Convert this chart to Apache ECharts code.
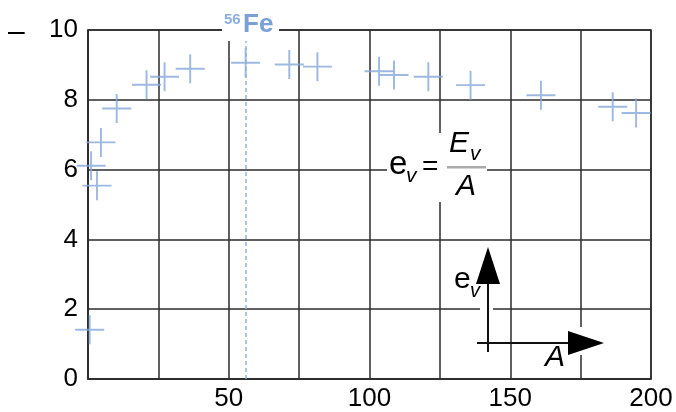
<!DOCTYPE html>
<html>
<head>
<meta charset="utf-8">
<title>e_v = E_v / A</title>
<style type="text/css">
  html, body { margin: 0; padding: 0; background: #fff; }
  #chart { width: 676px; height: 412px; }
</style>
<script src="https://cdn.jsdelivr.net/npm/echarts@6.0.0/dist/echarts.min.js"></script>
</head>
<body>
<div id="chart"></div>
<script type="text/javascript">
// mass number A and binding energy per nucleon e_v (MeV)
var massNumbers = [0.6, 1.1, 3.2, 4.6, 10.2, 20.8, 27.2, 36.3, 56, 71.5, 81.5, 103.4, 108.7, 120.9, 135.9, 160.9, 186.4, 194.7];
var energies = [1.41, 6.11, 5.54, 6.78, 7.75, 8.43, 8.66, 8.89, 9.06, 9.01, 8.95, 8.82, 8.71, 8.66, 8.42, 8.13, 7.80, 7.62];
var ironA = 56;

var points = massNumbers.map((a, i) => [a, energies[i]]);
var lineColor = '#2b2b2b';
var crossColor = '#86a8da';
var font = '"Liberation Sans", Arial, sans-serif';
var cross = 'path://M-1,-15 h2 v30 h-2 z M-15,-1 h30 v2 h-30 z';

var chart = echarts.init(document.getElementById('chart'));
var option = {
  animation: false,
  grid: {
    left: 88, right: 25, top: 30, bottom: 32,
    show: true, borderColor: lineColor, borderWidth: 1.5
  },
  xAxis: {
    type: 'value', min: 0, max: 200, interval: 25,
    axisLine: { show: true, lineStyle: { color: lineColor, width: 1.5 } },
    axisTick: { show: false },
    splitLine: { show: true, lineStyle: { color: lineColor, width: 1.5 } },
    axisLabel: {
      margin: 7, color: '#000', fontSize: 26, fontFamily: font,
      formatter: v => (v > 0 && v % 50 === 0) ? String(v) : ''
    }
  },
  yAxis: {
    type: 'value', min: 0, max: 10, interval: 2,
    axisLine: { show: true, lineStyle: { color: lineColor, width: 1.5 } },
    axisTick: { show: false },
    splitLine: { show: true, lineStyle: { color: lineColor, width: 1.5 } },
    axisLabel: { margin: 10, color: '#000', fontSize: 26, fontFamily: font }
  },
  series: [{
    type: 'scatter',
    data: points,
    clip: false,
    symbol: cross,
    symbolSize: 29,
    itemStyle: { color: crossColor },
    markLine: {
      silent: true,
      symbol: 'none',
      label: { show: false },
      lineStyle: { color: '#8fb2de', type: [4, 3], width: 1.5 },
      data: [{ xAxis: ironA }]
    },
    z: 3
  }],
  graphic: [
    // dash left of the 10 label
    { type: 'text', z: 100, style: { x: 8, y: 33, text: '–', font: '30px ' + font, fill: '#000', verticalAlign: 'middle' } },
    // 56Fe label
    { type: 'rect', z: 100, shape: { x: 222, y: 10, width: 57, height: 31 }, style: { fill: '#fff' } },
    { type: 'text', z: 101, style: { x: 224, y: 20, text: '56', font: 'bold 15px ' + font, fill: '#8aaee0', verticalAlign: 'middle' } },
    { type: 'text', z: 101, style: { x: 243, y: 25, text: 'Fe', font: 'bold 26px ' + font, fill: '#7aa0d6', verticalAlign: 'middle' } },
    // formula e_v = E_v / A
    { type: 'rect', z: 100, shape: { x: 387, y: 133, width: 100, height: 69 }, style: { fill: '#fff' } },
    { type: 'text', z: 101, style: { x: 389, y: 165, text: 'e', font: '33px ' + font, fill: '#000', verticalAlign: 'middle' } },
    { type: 'text', z: 101, style: { x: 406, y: 176, text: 'v', font: 'italic 21px ' + font, fill: '#000', verticalAlign: 'middle' } },
    { type: 'text', z: 101, style: { x: 422, y: 167, text: '=', font: '28px ' + font, fill: '#000', verticalAlign: 'middle' } },
    { type: 'rect', z: 101, shape: { x: 447, y: 166, width: 39, height: 2.5 }, style: { fill: '#aaa' } },
    { type: 'text', z: 101, style: { x: 449, y: 144, text: 'E', font: 'italic 30px ' + font, fill: '#000', verticalAlign: 'middle' } },
    { type: 'text', z: 101, style: { x: 470, y: 154, text: 'v', font: 'italic 21px ' + font, fill: '#000', verticalAlign: 'middle' } },
    { type: 'text', z: 101, style: { x: 456, y: 187, text: 'A', font: 'italic 30px ' + font, fill: '#000', verticalAlign: 'middle' } },
    // small axes sketch
    { type: 'rect', z: 100, shape: { x: 480, y: 304, width: 13, height: 8 }, style: { fill: '#fff' } },
    { type: 'rect', z: 100, shape: { x: 576, y: 327, width: 10, height: 28 }, style: { fill: '#fff' } },
    { type: 'line', z: 101, shape: { x1: 488, y1: 352, x2: 488, y2: 280 }, style: { stroke: '#111', lineWidth: 2 } },
    { type: 'polygon', z: 101, shape: { points: [[488, 247], [476, 284], [500, 284]] }, style: { fill: '#000' } },
    { type: 'line', z: 101, shape: { x1: 477, y1: 343, x2: 570, y2: 343 }, style: { stroke: '#111', lineWidth: 2 } },
    { type: 'polygon', z: 101, shape: { points: [[604, 343], [568, 331], [568, 355]] }, style: { fill: '#000' } },
    { type: 'text', z: 101, style: { x: 454, y: 280, text: 'e', font: '30px ' + font, fill: '#000', verticalAlign: 'middle' } },
    { type: 'text', z: 101, style: { x: 470, y: 291, text: 'v', font: 'italic 20px ' + font, fill: '#000', verticalAlign: 'middle' } },
    { type: 'text', z: 101, style: { x: 545, y: 358, text: 'A', font: 'italic 30px ' + font, fill: '#000', verticalAlign: 'middle' } }
  ]
};
chart.setOption(option);
</script>
</body>
</html>
